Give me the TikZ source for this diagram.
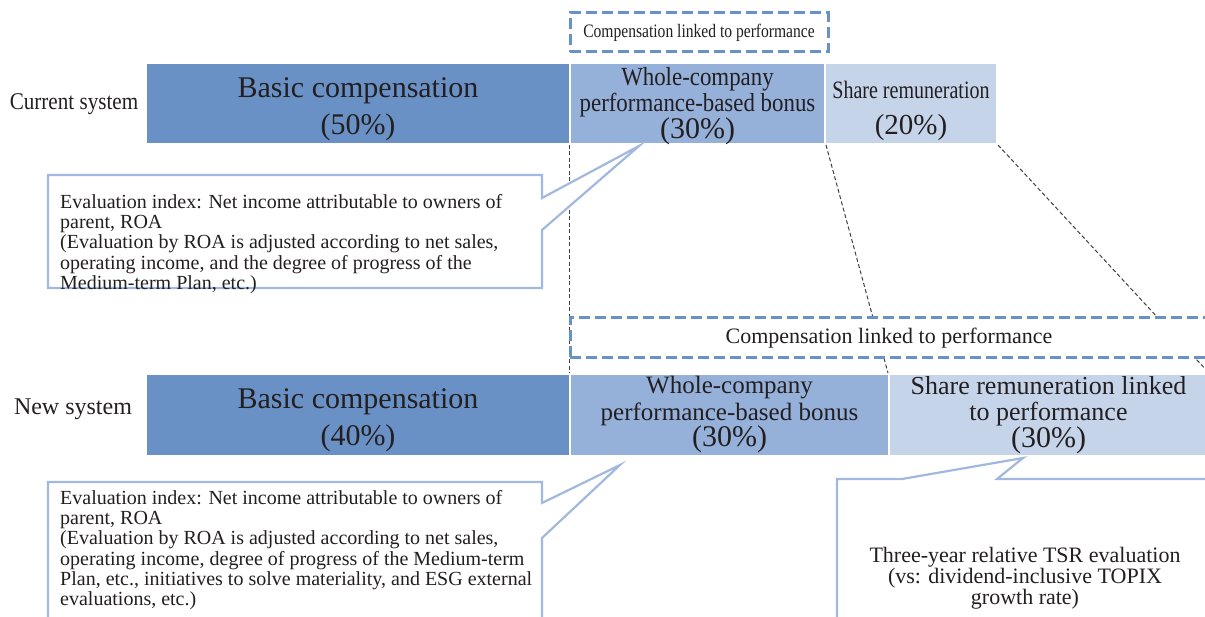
\documentclass[tikz,border=0pt]{standalone}
\usepackage{fontspec}
\setmainfont{Liberation Serif}
\usepackage{graphicx}

\definecolor{basicblue}{HTML}{6A91C6}
\definecolor{bonusblue}{HTML}{95B0D9}
\definecolor{shareblue}{HTML}{C6D4EA}
\definecolor{dashblue}{HTML}{6A90C8}
\definecolor{calloutblue}{HTML}{A2B8DE}
\definecolor{inkgrey}{HTML}{231F20}

\newcommand{\pxfont}[2]{\fontsize{#1}{#2}\selectfont}
\newcommand{\squeeze}[2]{\scalebox{#1}[1]{#2}}

\tikzset{
	bar/.style={draw=white, line width=2pt, inner sep=0pt, anchor=north west},
	bartext/.style={inner sep=0pt, text=inkgrey, align=center},
	linkbox/.style={draw=dashblue, line width=3pt, dash pattern=on 11pt off 5pt, fill=white, inner sep=0pt, text=inkgrey},
	guide/.style={draw=black!75, line width=1pt, dash pattern=on 4pt off 2.5pt},
	callout/.style={draw=calloutblue, line width=2.2pt, fill=white, line join=miter},
	note/.style={inner sep=0pt, text=inkgrey, font=\pxfont{20}{20.3}},
	rowlabel/.style={inner sep=0pt, text=inkgrey, font=\pxfont{24}{26}}
}

\begin{document}
\begin{tikzpicture}[x=1pt, y=-1pt]
		\useasboundingbox (0,0) rectangle (1205,617);
		% current system
		\node [rowlabel] (curlabel) at (74,104) {\squeeze{0.88}{Current system}};
		\node [bar, fill=basicblue, minimum width=424pt, minimum height=81pt] (curbasic) at (145,62) {};
		\node [bar, fill=bonusblue, minimum width=255pt, minimum height=81pt] (curbonus) at (569,62) {};
		\node [bar, fill=shareblue, minimum width=172pt, minimum height=81pt] (curshare) at (824,62) {};
		\node [bartext, font=\pxfont{30}{37}] (curbasictxt) at ([yshift=-6pt]curbasic.center) {Basic compensation\\(50\%)};
		\node [bartext, font=\pxfont{26}{26}] (curbonustxt) at ([yshift=-3pt]curbonus.center) {\squeeze{0.88}{Whole-company}\\\squeeze{0.88}{performance-based bonus}\\{\pxfont{30}{26}(30\%)}};
		\node [bartext, font=\pxfont{25}{36}] (cursharetxt) at ([yshift=-7pt]curshare.center) {\squeeze{0.8}{Share remuneration}\\{\pxfont{29}{36}(20\%)}};
		% new system
		\node [rowlabel] (newlabel) at (73,409) {New system};
		\node [bar, fill=basicblue, minimum width=424pt, minimum height=82pt] (newbasic) at (145,373) {};
		\node [bar, fill=bonusblue, minimum width=319pt, minimum height=82pt] (newbonus) at (569,373) {};
		\node [bar, fill=shareblue, minimum width=319pt, minimum height=82pt] (newshare) at (888,373) {};
		\node [bartext, font=\pxfont{30}{37}] (newbasictxt) at ([yshift=-5pt]newbasic.center) {Basic compensation\\(40\%)};
		\node [bartext, font=\pxfont{25}{26.5}] (newbonustxt) at (newbonus.center) {Whole-company\\performance-based bonus\\{\pxfont{30}{26.5}(30\%)}};
		\node [bartext, font=\pxfont{26}{26.5}] (newsharetxt) at (newshare.center) {Share remuneration linked\\to performance\\{\pxfont{30}{26.5}(30\%)}};
		% links between the two systems
		\draw [guide] (curbonus.south west) -- (newbonus.north west);
		\draw [guide] (curbonus.south east) -- (newshare.north west);
		\draw [guide] (curshare.south east) -- (newshare.north east);
		\node [linkbox, minimum width=258pt, minimum height=39pt, font=\pxfont{19}{20}] (curlink) at (699,32.5) {\squeeze{0.82}{Compensation linked to performance}};
		\node [linkbox, minimum width=638pt, minimum height=40pt, font=\pxfont{22}{24}] (newlink) at (889,338) {Compensation linked to performance};
		% callouts
		\draw [callout] (48,175) -- (542,175) -- (542,198) -- (639,146) -- (542,230) -- (542,288) -- (48,288) -- cycle;
		\node [note, anchor=west, align=left] (curnote) at (60,244) {Evaluation index: Net income attributable to owners of\\parent, ROA\\(Evaluation by ROA is adjusted according to net sales,\\operating income, and the degree of progress of the\\Medium-term Plan, etc.)};
		\draw [callout] (48,482) -- (542,482) -- (542,503) -- (620,465) -- (542,538) -- (542,630) -- (48,630) -- cycle;
		\node [note, anchor=west, align=left] (newnote) at (60,550) {Evaluation index: Net income attributable to owners of\\parent, ROA\\(Evaluation by ROA is adjusted according to net sales,\\operating income, degree of progress of the Medium-term\\Plan, etc., initiatives to solve materiality, and ESG external\\evaluations, etc.)};
		\draw [callout] (837,479) -- (902,479) -- (1023,458) -- (997,479) -- (1215,479) -- (1215,630) -- (837,630) -- cycle;
		\node [note, align=center, font=\pxfont{22}{21}] (tsrnote) at (1025,578) {Three-year relative TSR evaluation\\(vs: dividend-inclusive TOPIX\\growth rate)};
	\end{tikzpicture}
\end{document}
